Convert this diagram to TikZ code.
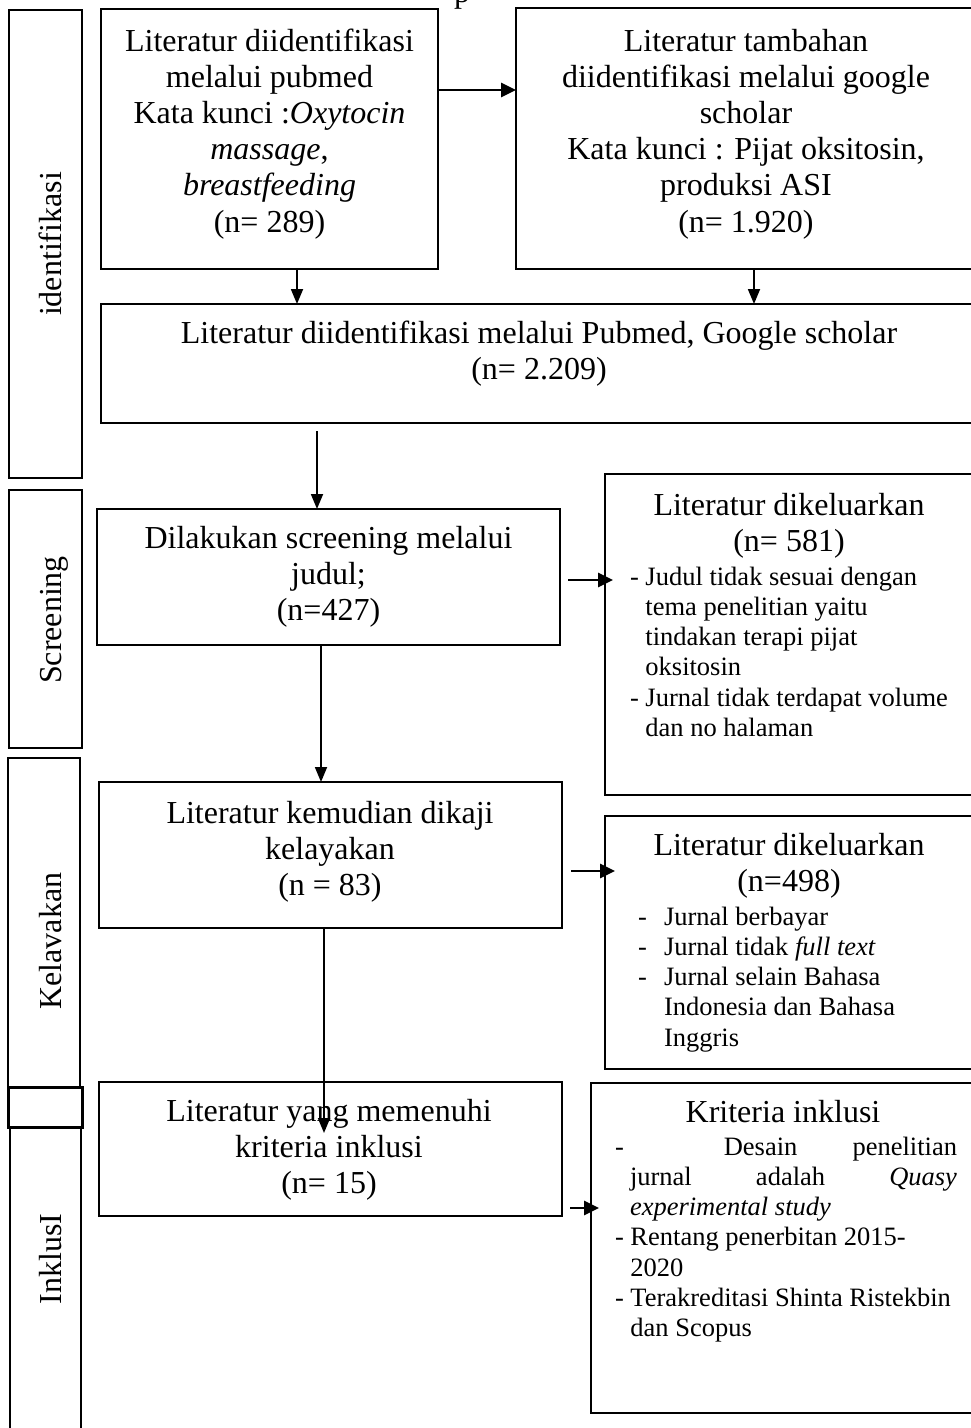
\documentclass[tikz,border=0pt]{standalone}
\usepackage{fontspec}
\setmainfont{Liberation Serif}
\usetikzlibrary{arrows.meta,calc}
\begin{document}
\begin{tikzpicture}[x=1pt,y=-1pt,
  box/.style={draw=black, line width=2.2pt, inner sep=0pt, outer sep=0pt, anchor=north west},
  arr/.style={line width=1.8pt, -{Triangle[length=15pt,width=12pt]}},
  harr/.style={line width=2.8pt, -{Triangle[length=15pt,width=14pt]}},
  txt/.style={inner sep=0pt, outer sep=0pt, anchor=base, font=\fontsize{32}{36.2}\selectfont},
  lst/.style={inner sep=0pt, outer sep=0pt, anchor=base west, font=\fontsize{26.5}{30.3}\selectfont},
  side/.style={inner sep=0pt, outer sep=0pt, anchor=base, rotate=90, font=\fontsize{32}{36}\selectfont}]
\useasboundingbox (0,0) rectangle (971,1428);
\clip (0,0) rectangle (971,1428);
\fill[white] (0,0) rectangle (971,1428);

% side label boxes
\node[box, minimum width=73pt, minimum height=468pt] (L1) at (9,10) {};
\node[box, minimum width=73pt, minimum height=258pt] (L2) at (9,490) {};
\node[box, minimum width=72pt, minimum height=329pt] (L3) at (8,758) {};
\node[box, minimum width=71pt, minimum height=313pt] (L5) at (10,1127) {};
\node[box, line width=3pt, minimum width=74pt, minimum height=40pt] (L4) at (8,1087) {};

% main boxes
\node[box, minimum width=337pt, minimum height=260pt] (b1) at (101,9) {};
\node[box, minimum width=474pt, minimum height=261pt] (b2) at (516,8) {};
\node[box, minimum width=889pt, minimum height=119pt] (b3) at (101,304) {};
\node[box, minimum width=463pt, minimum height=136pt] (b4) at (97,509) {};
\node[box, minimum width=385pt, minimum height=321pt] (b5) at (605,474) {};
\node[box, minimum width=463pt, minimum height=146pt] (b6) at (99,782) {};
\node[box, minimum width=385pt, minimum height=253pt] (b7) at (605,816) {};
\node[box, minimum width=463pt, minimum height=134pt] (b8) at (99,1082) {};
\node[box, minimum width=399pt, minimum height=330pt] (b9) at (591,1083) {};

% top cut text (cut off in the reference as well)
\node[txt] (ptop) at (462,2) {p};

% texts
\node[txt] (t1) at (269.5,51) {\begin{tabular}[t]{@{}c@{}}Literatur diidentifikasi\\ melalui pubmed\\ Kata kunci :\textit{Oxytocin}\\ \textit{massage},\\ \textit{breastfeeding}\\ (n= 289)\end{tabular}};
\node[txt] (t2) at (746,51) {\begin{tabular}[t]{@{}c@{}}Literatur tambahan\\ diidentifikasi melalui google\\ scholar\\ Kata kunci : Pijat oksitosin,\\ produksi ASI\\ (n= 1.920)\end{tabular}};
\node[txt] (t3) at (539,343) {\begin{tabular}[t]{@{}c@{}}Literatur diidentifikasi melalui Pubmed, Google scholar\\ (n= 2.209)\end{tabular}};
\node[txt] (t4) at (328.5,548) {\begin{tabular}[t]{@{}c@{}}Dilakukan screening melalui\\ judul;\\ (n=427)\end{tabular}};
\node[txt] (t5) at (789,515) {\begin{tabular}[t]{@{}c@{}}Literatur dikeluarkan\\ (n= 581)\end{tabular}};
\node[lst] (t5b) at (630,585) {\begin{tabular}[t]{@{}l@{}}- Judul tidak sesuai dengan\\ \phantom{-}\ tema penelitian yaitu\\ \phantom{-}\ tindakan terapi pijat\\ \phantom{-}\ oksitosin\\ - Jurnal tidak terdapat volume\\ \phantom{-}\ dan no halaman\end{tabular}};
\node[txt] (t6) at (330,823) {\begin{tabular}[t]{@{}c@{}}Literatur kemudian dikaji\\ kelayakan\\ (n = 83)\end{tabular}};
\node[txt] (t7) at (789,855) {\begin{tabular}[t]{@{}c@{}}Literatur dikeluarkan\\ (n=498)\end{tabular}};
\node[lst] (t7b) at (638,925) {\begin{tabular}[t]{@{}l@{}}-\hspace{17.2pt}Jurnal berbayar\\ -\hspace{17.2pt}Jurnal tidak \textit{full text}\\ -\hspace{17.2pt}Jurnal selain Bahasa\\ \hspace*{26pt}Indonesia dan Bahasa\\ \hspace*{26pt}Inggris\end{tabular}};
\node[txt] (t8) at (329,1121) {\begin{tabular}[t]{@{}c@{}}Literatur yang memenuhi\\ kriteria inklusi\\ (n= 15)\end{tabular}};
\node[txt] (t9) at (783,1122) {Kriteria inklusi};
\node[lst] (t9b) at (615,1155) {\begin{tabular}[t]{@{}l@{}}\makebox[342pt][l]{-\hspace{100pt}Desain\hfill penelitian}\\ \hspace*{15pt}\makebox[327pt][s]{jurnal adalah \textit{Quasy}}\\ \hspace*{15pt}\textit{experimental study}\\ - Rentang penerbitan 2015-\\ \phantom{-}\ 2020\\ - Terakreditasi Shinta Ristekbin\\ \phantom{-}\ dan Scopus\end{tabular}};

% side labels
\node[side] (s1) at (61,244) {identifikasi};
\node[side] (s2) at (61,620) {Screening};
\node[side] (s3) at (61,941) {Kelavakan};
\node[side] (s4) at (61,1259) {InklusI};

% connectors
\draw[harr] (b1.east |- 0,90) -- (b2.west |- 0,90);
\draw[arr] (b1.south -| 297,0) -- (b3.north -| 297,0);
\draw[arr] (b2.south -| 754,0) -- (b3.north -| 754,0);
\draw[arr] ($(b3.south -| 317,0)+(0,8)$) -- (b4.north -| 317,0);
\draw[harr] ($(b4.east |- 0,580)+(8,0)$) -- ($(b5.west |- 0,580)+(8,0)$);
\draw[arr] (b4.south -| 321,0) -- (b6.north -| 321,0);
\draw[harr] ($(b6.east |- 0,871)+(9,0)$) -- ($(b7.west |- 0,871)+(10,0)$);
\coordinate (a8end) at (324,1133);
\draw[arr] (b6.south -| 324,0) -- (a8end);
\draw[harr] ($(b8.east |- 0,1208)+(8,0)$) -- ($(b9.west |- 0,1208)+(8,0)$);
\end{tikzpicture}
\end{document}
